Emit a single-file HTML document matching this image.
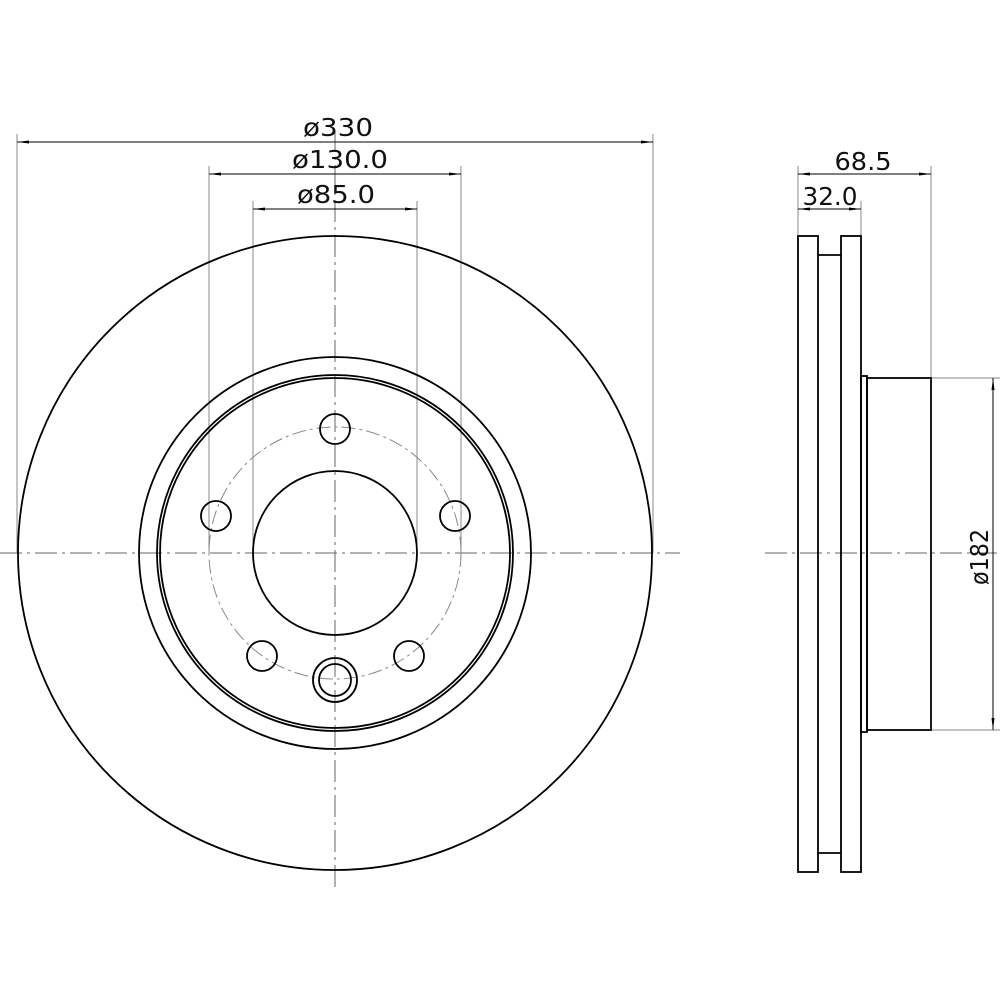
<!DOCTYPE html>
<html><head><style>body{margin:0;background:#fff}svg{display:block}</style></head><body>
<svg width="1000" height="1000" viewBox="0 0 1000 1000" xmlns="http://www.w3.org/2000/svg">
<defs><marker id="a" markerWidth="12" markerHeight="6" refX="12" refY="3" orient="auto-start-reverse" markerUnits="userSpaceOnUse"><path d="M0,1.5 L12,3 L0,4.5Z" fill="#000"/></marker></defs>
<g fill="none" stroke="#000">
<g stroke="#666" stroke-width="1" stroke-dasharray="22,5,3,5">
<line x1="0" y1="553" x2="680" y2="553"/>
<line x1="335" y1="130" x2="335" y2="890"/>
<line x1="765" y1="553" x2="1000" y2="553"/>
</g>
<circle cx="335" cy="553" r="126" stroke="#888" stroke-width="1" stroke-dasharray="14,4,3,4"/>
<g stroke="#888" stroke-width="1">
<line x1="17" y1="134" x2="17" y2="553"/><line x1="653" y1="134" x2="653" y2="553"/>
<line x1="209" y1="166" x2="209" y2="553"/><line x1="461" y1="166" x2="461" y2="553"/>
<line x1="253" y1="201" x2="253" y2="553"/><line x1="417" y1="201" x2="417" y2="553"/>
<line x1="798" y1="166" x2="798" y2="236"/><line x1="931" y1="166" x2="931" y2="378"/>
<line x1="861" y1="201" x2="861" y2="236"/>
<line x1="931" y1="378" x2="1000" y2="378"/><line x1="931" y1="730" x2="1000" y2="730"/>
</g>
<g stroke-width="1">
<line x1="17" y1="142" x2="653" y2="142" marker-start="url(#a)" marker-end="url(#a)"/>
<line x1="209" y1="174" x2="461" y2="174" marker-start="url(#a)" marker-end="url(#a)"/>
<line x1="253" y1="209" x2="417" y2="209" marker-start="url(#a)" marker-end="url(#a)"/>
<line x1="798" y1="174" x2="931" y2="174" marker-start="url(#a)" marker-end="url(#a)"/>
<line x1="798" y1="209" x2="861" y2="209" marker-start="url(#a)" marker-end="url(#a)"/>
<line x1="993" y1="378" x2="993" y2="730" marker-start="url(#a)" marker-end="url(#a)"/>
</g>
<g stroke-width="1.8">
<circle cx="335" cy="553" r="317"/>
<circle cx="335" cy="553" r="196"/>
<circle cx="335" cy="553" r="178"/>
<circle cx="335" cy="553" r="175"/>
<circle cx="335" cy="553" r="82"/>
<circle cx="335" cy="429" r="15"/>
<circle cx="216" cy="516" r="15"/>
<circle cx="455" cy="516" r="15"/>
<circle cx="262" cy="656" r="15"/>
<circle cx="409" cy="656" r="15"/>
<circle cx="335" cy="680" r="22"/>
<circle cx="335" cy="680" r="16"/>
</g>
<g stroke-width="1.8">
<rect x="798" y="236" width="20" height="636"/>
<rect x="841" y="236" width="20" height="636"/>
<line x1="818" y1="255" x2="841" y2="255"/>
<line x1="818" y1="853" x2="841" y2="853"/>
<rect x="861" y="376" width="6" height="356"/>
<rect x="867" y="378" width="64" height="352"/>
</g>
</g>
<g font-family="'DejaVu Sans Condensed','DejaVu Sans',sans-serif" font-size="25" fill="#111" text-anchor="middle" lengthAdjust="spacingAndGlyphs">
<text x="338" y="136" textLength="70" lengthAdjust="spacingAndGlyphs">ø330</text>
<text x="340" y="168" textLength="96" lengthAdjust="spacingAndGlyphs">ø130.0</text>
<text x="336" y="203" textLength="78" lengthAdjust="spacingAndGlyphs">ø85.0</text>
<text x="863" y="170" textLength="57" lengthAdjust="spacingAndGlyphs">68.5</text>
<text x="830" y="205" textLength="55" lengthAdjust="spacingAndGlyphs">32.0</text>
<text transform="translate(988,557) rotate(-90)" textLength="56" lengthAdjust="spacingAndGlyphs">ø182</text>
</g>
</svg>
</body></html>
